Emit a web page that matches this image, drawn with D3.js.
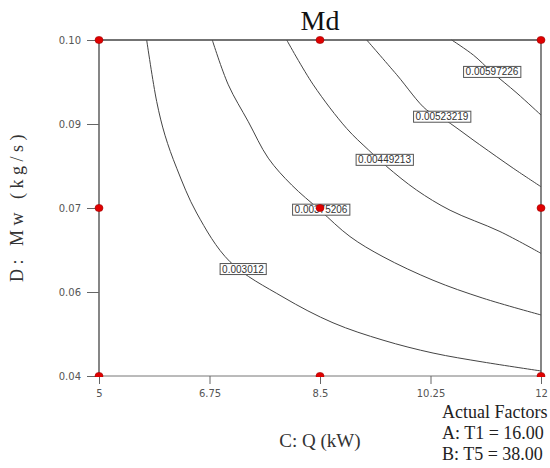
<!DOCTYPE html>
<html>
<head>
<meta charset="utf-8">
<script src="https://cdn.jsdelivr.net/npm/d3@7"></script>
<style>
  body { margin: 0; background: #fff; }
  svg { display: block; }
</style>
</head>
<body>
<div id="chart"></div>
<script>
var width = 550;
var height = 468;

// axis ticks (the y labels are rounded in the original)
var xTicks = [5, 6.75, 8.5, 10.25, 12];
var xTickLabels = ["5", "6.75", "8.5", "10.25", "12"];
var yTicks = [0.04, 0.055, 0.07, 0.085, 0.10];
var yTickLabels = ["0.04", "0.06", "0.07", "0.09", "0.10"];

// contour levels and the traced curves, [Q, Mw]
var levels = ["0.003012", "0.00375206", "0.00449213", "0.00523219", "0.00597226"];
var curve1 = [[5.755, 0.100], [5.914, 0.0890], [6.045, 0.0830], [6.231, 0.0771], [6.547, 0.0691],
              [7.075, 0.0604], [7.914, 0.0541], [8.706, 0.0495], [9.498, 0.0464], [10.29, 0.0441],
              [11.08, 0.0425], [12.0, 0.0409]];
var curve2 = [[6.794, 0.100], [7.048, 0.0920], [7.365, 0.0854], [7.681, 0.0789], [8.052, 0.0741],
              [8.50, 0.0696], [8.975, 0.0649], [9.498, 0.0613], [10.29, 0.0571], [11.08, 0.0539],
              [12.0, 0.0509]];
var curve3 = [[7.973, 0.100], [8.394, 0.0920], [8.923, 0.0842], [9.265, 0.0804], [9.557, 0.0774],
              [10.03, 0.0732], [10.56, 0.0696], [11.35, 0.0658], [12.0, 0.0619]];
var curve4 = [[9.240, 0.100], [9.715, 0.0938], [10.19, 0.0875], [10.43, 0.0861], [11.03, 0.0813],
              [11.56, 0.0771], [12.0, 0.0738]];
var curve5 = [[10.586, 0.100], [10.93, 0.0973], [11.22, 0.0943], [11.62, 0.0905], [12.0, 0.0866]];
var curves = [curve1, curve2, curve3, curve4, curve5];
var labelAt = [[7.28, 0.0591], [8.516, 0.0697], [9.522, 0.0786], [10.432, 0.0863], [11.224, 0.0943]];

// design points
var designQ = [5, 8.5, 12];
var designMw = [0.04, 0.07, 0.10];

var factorLines = ["Actual Factors", "A: T1 = 16.00", "B: T5 = 38.00"];

var xScale = d3.scaleLinear().domain([5, 12]).range([99, 541]);
var yScale = d3.scaleLinear().domain([0.04, 0.10]).range([376, 40]);

var svg = d3.select("#chart").append("svg")
    .attr("width", width)
    .attr("height", height);

svg.append("defs").append("clipPath").attr("id", "plotClip")
    .append("rect").attr("x", 80).attr("y", 20).attr("width", 480).attr("height", 357);

// title
svg.append("text")
    .attr("x", 320).attr("y", 30)
    .attr("text-anchor", "middle")
    .style("font-family", "'Liberation Serif', 'Times New Roman', serif")
    .style("font-size", "28px")
    .attr("fill", "#111")
    .text("Md");

// contour curves
var line = d3.line()
    .x(function(d) { return xScale(d[0]); })
    .y(function(d) { return yScale(d[1]); })
    .curve(d3.curveCatmullRom.alpha(0.5));

svg.append("g").selectAll("path")
    .data(curves)
    .enter().append("path")
    .attr("d", line)
    .attr("fill", "none")
    .attr("stroke", "#444")
    .attr("stroke-width", 1);

// plot frame
var frame = svg.append("g").attr("stroke", "#444").attr("stroke-width", 1.3);
frame.append("line").attr("x1", 99).attr("x2", 541).attr("y1", 40).attr("y2", 40);
frame.append("line").attr("x1", 541).attr("x2", 541).attr("y1", 40).attr("y2", 376);
frame.append("line").attr("x1", 99).attr("x2", 99).attr("y1", 40).attr("y2", 376);
frame.append("line").attr("x1", 99).attr("x2", 541).attr("y1", 376).attr("y2", 376)
    .attr("stroke", "#777").attr("stroke-width", 1);

// axes
var xAxis = d3.axisBottom(xScale)
    .tickValues(xTicks)
    .tickSize(8)
    .tickPadding(6)
    .tickFormat(function(d, i) { return xTickLabels[i]; });

var yAxis = d3.axisLeft(yScale)
    .tickValues(yTicks)
    .tickSize(12)
    .tickPadding(6)
    .tickFormat(function(d, i) { return yTickLabels[i]; });

var gx = svg.append("g").attr("transform", "translate(0,376)").call(xAxis);
var gy = svg.append("g").attr("transform", "translate(99,0)").call(yAxis);

[gx, gy].forEach(function(g) {
    g.select(".domain").remove();
    g.selectAll(".tick line").attr("stroke", "#666");
    g.selectAll(".tick text")
        .attr("fill", "#555")
        .style("font-family", "'DejaVu Sans', Verdana, sans-serif")
        .style("font-size", "10px");
});

// contour labels
var labels = svg.append("g").selectAll("g")
    .data(levels)
    .enter().append("g")
    .attr("transform", function(d, i) {
        return "translate(" + xScale(labelAt[i][0]) + "," + yScale(labelAt[i][1]) + ")";
    });

labels.append("text")
    .attr("text-anchor", "middle")
    .attr("dy", "0.35em")
    .attr("fill", "#333")
    .style("font-family", "'Liberation Sans', Arial, sans-serif")
    .style("font-size", "10px")
    .text(function(d) { return d; });

labels.each(function() {
    var g = d3.select(this);
    var bb = g.select("text").node().getBBox();
    g.insert("rect", "text")
        .attr("x", bb.x - 2).attr("y", -5.5)
        .attr("width", bb.width + 4).attr("height", 11)
        .attr("fill", "#fff")
        .attr("stroke", "#555")
        .attr("stroke-width", 1);
});

// design points
var pts = [];
designQ.forEach(function(q) {
    designMw.forEach(function(m) { pts.push([q, m]); });
});

svg.append("g").attr("clip-path", "url(#plotClip)")
    .selectAll("ellipse")
    .data(pts)
    .enter().append("ellipse")
    .attr("cx", function(d) { return xScale(d[0]); })
    .attr("cy", function(d) { return yScale(d[1]); })
    .attr("rx", 4)
    .attr("ry", 3.6)
    .attr("fill", "#e00000")
    .attr("stroke", "#a00000")
    .attr("stroke-width", 0.6);

// axis titles
svg.append("text")
    .attr("x", 320).attr("y", 447)
    .attr("text-anchor", "middle")
    .style("font-family", "'Liberation Serif', 'Times New Roman', serif")
    .style("font-size", "19px")
    .attr("fill", "#333")
    .text("C: Q (kW)");

svg.append("text")
    .attr("transform", "translate(23,206) rotate(-90)")
    .attr("text-anchor", "middle")
    .style("font-family", "'Liberation Serif', 'Times New Roman', serif")
    .style("font-size", "18px")
    .style("letter-spacing", "4.5px")
    .attr("fill", "#333")
    .text("D: Mw (kg/s)");

// actual factors note
svg.append("g").selectAll("text")
    .data(factorLines)
    .enter().append("text")
    .attr("x", 442)
    .attr("y", function(d, i) { return 418 + i * 21; })
    .style("font-family", "'Liberation Serif', 'Times New Roman', serif")
    .style("font-size", "18px")
    .attr("fill", "#222")
    .text(function(d) { return d; });
</script>
</body>
</html>
